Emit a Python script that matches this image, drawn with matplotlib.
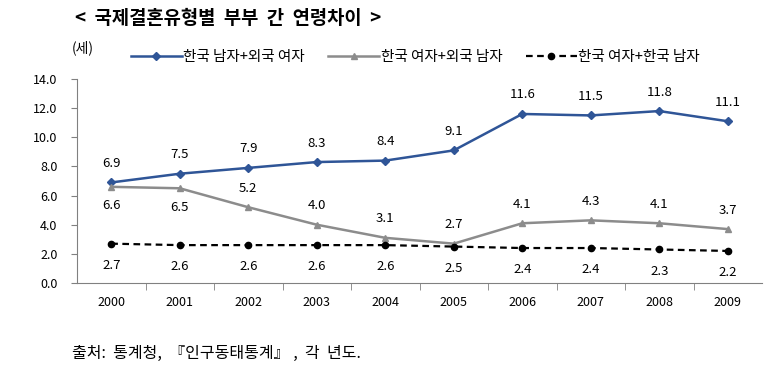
import numpy as np
import matplotlib.pyplot as plt

plt.rcParams['font.family'] = ['Noto Sans CJK KR', 'DejaVu Sans']

years = ['2000', '2001', '2002', '2003', '2004', '2005', '2006', '2007', '2008', '2009']
kor_m_for_f = [6.9, 7.5, 7.9, 8.3, 8.4, 9.1, 11.6, 11.5, 11.8, 11.1]
kor_f_for_m = [6.6, 6.5, 5.2, 4.0, 3.1, 2.7, 4.1, 4.3, 4.1, 3.7]
kor_f_kor_m = [2.7, 2.6, 2.6, 2.6, 2.6, 2.5, 2.4, 2.4, 2.3, 2.2]
names = ['한국 남자+외국 여자', '한국 여자+외국 남자', '한국 여자+한국 남자']

fig = plt.figure(figsize=(7.76, 3.77), dpi=100)
ax = fig.add_axes([77/776, 1-283/377, 685/776, 204/377])
x = np.arange(len(years))

ax.plot(x, kor_m_for_f, color='#2F5597', lw=1.8, marker='D', ms=4, label=names[0])
ax.plot(x, kor_f_for_m, color='#8C8C8C', lw=1.8, marker='^', ms=5, label=names[1])
ax.plot(x, kor_f_kor_m, color='black', lw=1.6, ls=(0, (3, 2)), marker='o', ms=4.5, label=names[2])

for i in x:
    ax.annotate('%.1f' % kor_m_for_f[i], (i, kor_m_for_f[i]), xytext=(0, 9), textcoords='offset points',
                ha='center', va='bottom', fontsize=9.5)
    off = -9 if i < 2 else 9
    ax.annotate('%.1f' % kor_f_for_m[i], (i, kor_f_for_m[i]), xytext=(0, off), textcoords='offset points',
                ha='center', va='top' if off < 0 else 'bottom', fontsize=9.5)
    ax.annotate('%.1f' % kor_f_kor_m[i], (i, kor_f_kor_m[i]), xytext=(0, -11), textcoords='offset points',
                ha='center', va='top', fontsize=9.5)

ax.set_xlim(-0.5, len(years) - 0.5)
ax.set_ylim(0, 14)
ax.set_yticks(np.arange(0, 14.1, 2))
ax.set_yticklabels(['%.1f' % v for v in np.arange(0, 14.1, 2)], fontsize=9)
ax.set_xticks(x)
ax.set_xticklabels(years, fontsize=9)
ax.set_xticks(np.arange(0.5, len(years) - 1, 1), minor=True)
ax.tick_params(axis='x', which='major', length=0, pad=9)
ax.tick_params(axis='x', which='minor', length=5, color='#808080', direction='out')
ax.tick_params(axis='y', length=4, color='#808080', direction='out', pad=10)
for s in ['top', 'right']:
    ax.spines[s].set_visible(False)
for s in ['left', 'bottom']:
    ax.spines[s].set_color('#808080')

fig.legend(loc='center', bbox_to_anchor=(0.535, 1 - 57/377), ncol=3, frameon=False,
           fontsize=10.5, handlelength=3.5, columnspacing=1.6, handletextpad=0.1)
fig.text(75/776, 1 - 18/377, '<  국제결혼유형별  부부  간  연령차이  >', fontsize=13.5, fontweight='bold', va='center')
fig.text(72/776, 1 - 48/377, '(세)', fontsize=10, va='center')
fig.text(72/776, 1 - 353/377, '출처:  통계청,  『인구동태통계』 ,  각  년도.', fontsize=11.5, va='center')

fig.savefig('out.png', dpi=100)
